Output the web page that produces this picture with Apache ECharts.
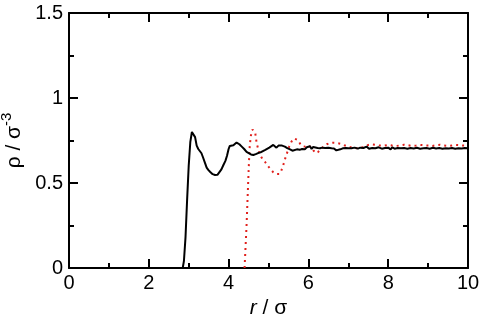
<!DOCTYPE html>
<html>
<head>
<meta charset="utf-8">
<script src="https://cdn.jsdelivr.net/npm/echarts@6/dist/echarts.min.js"></script>
<style>html,body{margin:0;padding:0;background:#fff}#c{width:480px;height:318px}</style>
</head>
<body>
<div id="c"></div>
<script>
var blackR = [2.85,2.88,2.92,2.96,3.0,3.04,3.08,3.12,3.16,3.2,3.24,3.28,3.32,3.36,3.41,3.45,3.49,3.54,3.6,3.66,3.72,3.77,3.82,3.87,3.92,3.96,4.0,4.03,4.08,4.12,4.16,4.2,4.23,4.27,4.33,4.39,4.45,4.5,4.56,4.62,4.68,4.74,4.8,4.86,4.92,4.97,5.02,5.07,5.12,5.16,5.2,5.25,5.29,5.34,5.41,5.47,5.54,5.6,5.65,5.71,5.78,5.84,5.91,5.96,6.0,6.04,6.08,6.12,6.17,6.23,6.29,6.35,6.42,6.5,6.58,6.64,6.7,6.75,6.8,6.86,6.94,7.0,7.08,7.16,7.24,7.3,7.38,7.46,7.52,7.6,7.68,7.76,7.84,7.92,8.0,8.06,8.1,8.16,8.24,8.32,8.4,8.48,8.56,8.64,8.72,8.8,8.88,8.96,9.04,9.12,9.2,9.28,9.36,9.44,9.52,9.6,9.68,9.76,9.84,9.92,10.0];
var blackRho = [0,0.04,0.18,0.40,0.60,0.74,0.80,0.81,0.77,0.72,0.70,0.69,0.675,0.65,0.617,0.59,0.577,0.565,0.552,0.547,0.548,0.556,0.58,0.606,0.63,0.66,0.70,0.718,0.72,0.722,0.726,0.738,0.74,0.728,0.714,0.70,0.683,0.676,0.668,0.665,0.67,0.676,0.68,0.688,0.695,0.70,0.708,0.716,0.724,0.715,0.708,0.72,0.728,0.72,0.714,0.705,0.698,0.69,0.696,0.698,0.695,0.70,0.698,0.71,0.704,0.716,0.70,0.712,0.714,0.706,0.704,0.708,0.706,0.708,0.705,0.703,0.692,0.684,0.698,0.704,0.706,0.704,0.704,0.708,0.702,0.708,0.706,0.714,0.702,0.706,0.704,0.71,0.702,0.706,0.708,0.698,0.71,0.702,0.706,0.704,0.706,0.702,0.706,0.703,0.707,0.702,0.704,0.706,0.702,0.707,0.703,0.706,0.702,0.705,0.703,0.706,0.702,0.705,0.703,0.706,0.704];
var redR = [4.40,4.45,4.49,4.51,4.53,4.56,4.6,4.64,4.67,4.7,4.74,4.79,4.85,4.91,5.0,5.06,5.12,5.2,5.27,5.32,5.37,5.42,5.47,5.52,5.58,5.64,5.68,5.74,5.8,5.86,5.92,5.98,6.02,6.08,6.13,6.18,6.24,6.3,6.38,6.46,6.54,6.62,6.7,6.8,6.9,7.0,7.1,7.2,7.3,7.4,7.5,7.6,7.7,7.8,7.9,8.0,8.1,8.2,8.3,8.4,8.5,8.6,8.7,8.8,8.9,9.0,9.1,9.2,9.3,9.4,9.5,9.6,9.7,9.8,9.9,10.0];
var redRho = [0,0.25,0.5,0.62,0.72,0.78,0.815,0.818,0.79,0.74,0.70,0.665,0.64,0.625,0.596,0.578,0.563,0.553,0.553,0.572,0.605,0.645,0.68,0.715,0.745,0.762,0.766,0.752,0.728,0.716,0.714,0.722,0.728,0.71,0.69,0.676,0.682,0.695,0.715,0.728,0.735,0.737,0.736,0.731,0.722,0.714,0.708,0.705,0.707,0.712,0.724,0.727,0.724,0.72,0.72,0.724,0.72,0.718,0.721,0.725,0.722,0.718,0.72,0.724,0.722,0.72,0.718,0.722,0.725,0.72,0.718,0.721,0.724,0.722,0.72,0.72];
var xTicks = [0,2,4,6,8,10];
var yTicks = [0,0.5,1,1.5];

function pairs(a,b){var o=[];for(var i=0;i<a.length;i++)o.push([a[i],b[i]]);return o;}
var FONT = 'Liberation Sans';
function axLine(){ return {show:true, onZero:false, lineStyle:{color:'#000', width:2}}; }
function tMain(){ return {show:true, inside:true, length:9, lineStyle:{color:'#000', width:2}}; }
function tMinor(){ return {show:true, splitNumber:2, length:5, lineStyle:{color:'#000', width:2}}; }
var chart = echarts.init(document.getElementById('c'));
chart.setOption({
  animation:false,
  backgroundColor:'#fff',
  grid:{left:69, right:12, top:13, bottom:50, containLabel:false, outerBoundsMode:'none'},
  xAxis:[{
    type:'value', min:xTicks[0], max:xTicks[xTicks.length-1], interval:2, position:'bottom',
    axisLine:axLine(), axisTick:tMain(), minorTick:tMinor(), splitLine:{show:false}, minorSplitLine:{show:false},
    axisLabel:{color:'#000', fontFamily:FONT, fontSize:20, margin:5},
    name:'{i|r} / σ', nameLocation:'middle', nameGap:23,
    nameTextStyle:{color:'#000', fontFamily:FONT, fontSize:21, rich:{i:{fontStyle:'italic', fontFamily:FONT, fontSize:21, color:'#000'}}}
  },{
    type:'value', min:0, max:10, interval:2, position:'top',
    axisLine:axLine(), axisTick:tMain(), minorTick:tMinor(), splitLine:{show:false}, axisLabel:{show:false}
  }],
  yAxis:[{
    type:'value', min:yTicks[0], max:yTicks[yTicks.length-1], interval:0.5, position:'left',
    axisLine:axLine(), axisTick:tMain(), minorTick:tMinor(), splitLine:{show:false},
    axisLabel:{color:'#000', fontFamily:FONT, fontSize:20, margin:6},
    name:'ρ / σ{s|-3}', nameLocation:'middle', nameGap:37, nameRotate:90,
    nameTextStyle:{color:'#000', fontFamily:FONT, fontSize:21, rich:{s:{fontFamily:FONT, fontSize:15, color:'#000', verticalAlign:'bottom', padding:[0,0,13,0]}}}
  },{
    type:'value', min:0, max:1.5, interval:0.5, position:'right',
    axisLine:axLine(), axisTick:tMain(), minorTick:tMinor(), splitLine:{show:false}, axisLabel:{show:false}
  }],
  series:[{
    type:'line', data:pairs(blackR, blackRho), showSymbol:false, symbol:'none',
    lineStyle:{color:'#000', width:2}, z:3
  },{
    type:'line', data:pairs(redR, redRho), showSymbol:false, symbol:'none',
    lineStyle:{color:'#e0201c', width:2, type:[2,4]}, z:2
  }]
});
</script>
</body>
</html>
